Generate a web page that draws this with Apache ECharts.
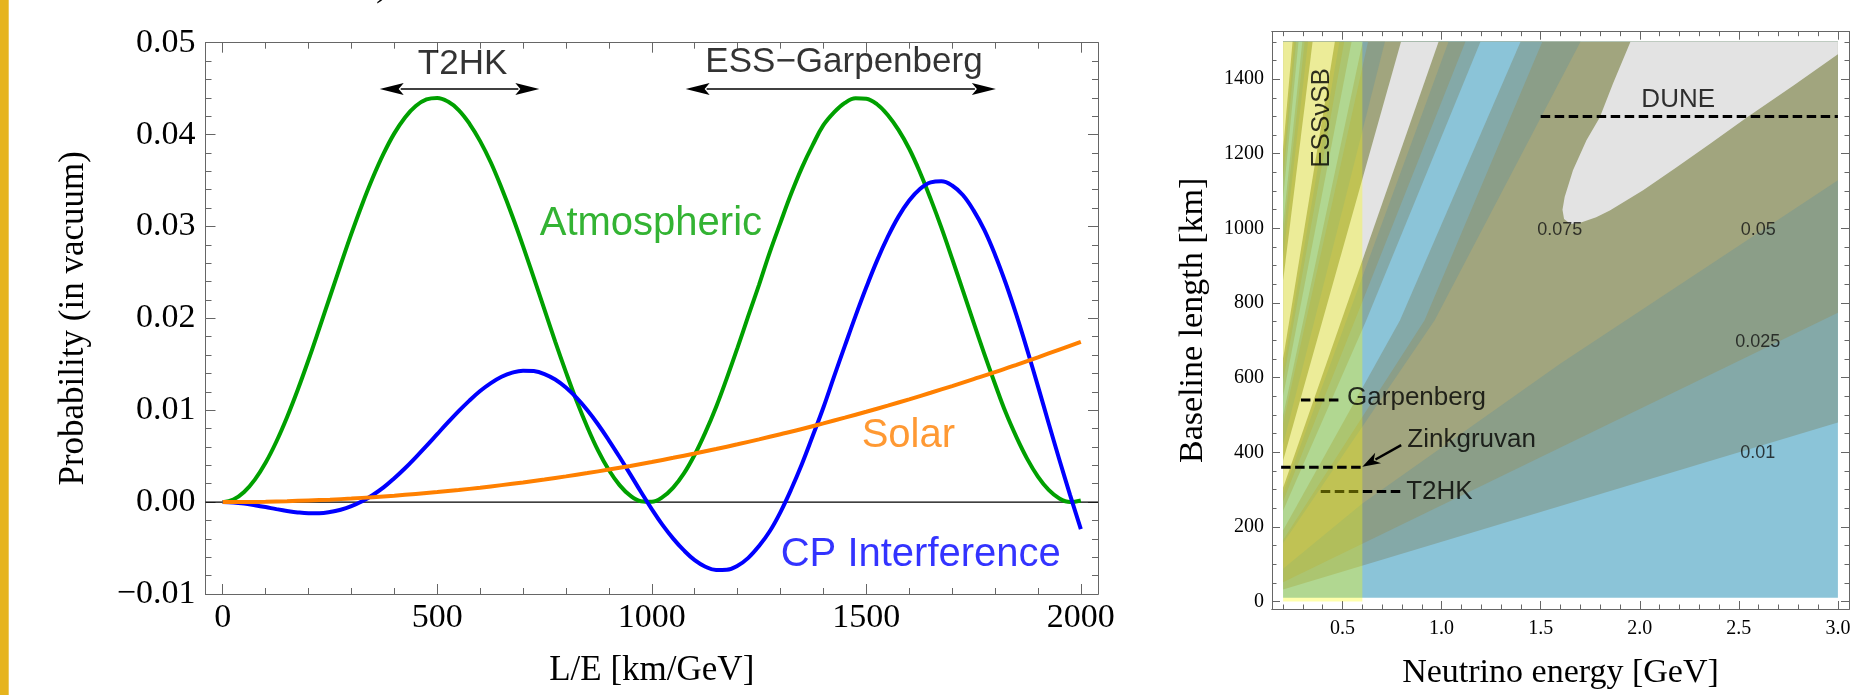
<!DOCTYPE html>
<html>
<head>
<meta charset="utf-8">
<script src="https://cdn.jsdelivr.net/npm/echarts@6/dist/echarts.min.js"></script>
<style>
html, body { margin: 0; padding: 0; background: #fff; }
#chart { width: 1864px; height: 695px; }
</style>
</head>
<body>
<div id="chart"></div>
<script>
// ---------- left panel: oscillation terms vs L/E ----------
var le = [0, 25, 50, 75, 100, 125, 150, 175, 200, 225, 250, 275, 300, 325, 350, 375, 400, 425, 450, 475,
          500, 525, 550, 575, 600, 625, 650, 675, 700, 725, 750, 775, 800, 825, 850, 875, 900, 925, 950, 975,
          1000, 1025, 1050, 1075, 1100, 1125, 1150, 1175, 1200, 1225, 1250, 1275, 1300, 1325, 1350, 1375,
          1400, 1425, 1450, 1475, 1500, 1525, 1550, 1575, 1600, 1625, 1650, 1675, 1700, 1725, 1750, 1775,
          1800, 1825, 1850, 1875, 1900, 1925, 1950, 1975, 2000];
var atmospheric = [0, 0.00028, 0.00110, 0.00245, 0.00428, 0.00657, 0.00924, 0.01223, 0.01547, 0.01888,
          0.02235, 0.02582, 0.02922, 0.03240, 0.03532, 0.03792, 0.04013, 0.04187, 0.04311, 0.04382,
          0.04399, 0.04359, 0.04267, 0.04120, 0.03929, 0.03696, 0.03418, 0.03114, 0.02787, 0.02443,
          0.02096, 0.01747, 0.01415, 0.01100, 0.00815, 0.00560, 0.00349, 0.00185, 0.00070, 0.00010,
          0.00004, 0.00054, 0.00158, 0.00312, 0.00515, 0.00759, 0.01036, 0.01350, 0.01682, 0.02026,
          0.02365, 0.02718, 0.03042, 0.03358, 0.03641, 0.03885, 0.04102, 0.04243, 0.04345, 0.04396,
          0.04390, 0.04330, 0.04214, 0.04051, 0.03846, 0.03591, 0.03300, 0.02987, 0.02650, 0.02304,
          0.01956, 0.01613, 0.01286, 0.00974, 0.00707, 0.00471, 0.00278, 0.00133, 0.00040, 0.00001, 0.00018];
var cpInterference = [0, -0.00004, -0.00016, -0.00034, -0.00054, -0.00076, -0.00096, -0.00112, -0.00120, -0.00120,
          -0.00108, -0.00083, -0.00044, 0.00009, 0.00078, 0.00160, 0.00260, 0.00369, 0.00488, 0.00612,
          0.00740, 0.00867, 0.00990, 0.01105, 0.01209, 0.01295, 0.01364, 0.01410, 0.01431, 0.01426,
          0.01394, 0.01334, 0.01247, 0.01134, 0.01000, 0.00845, 0.00673, 0.00491, 0.00302, 0.00110,
          -0.00076, -0.00248, -0.00397, -0.00526, -0.00632, -0.00703, -0.00739, -0.00736, -0.00693, -0.00607,
          -0.00478, -0.00317, -0.00108, 0.00140, 0.00415, 0.00719, 0.01030, 0.01369, 0.01700, 0.02027,
          0.02338, 0.02628, 0.02886, 0.03107, 0.03282, 0.03408, 0.03479, 0.03492, 0.03446, 0.03342,
          0.03175, 0.02962, 0.02693, 0.02382, 0.02034, 0.01657, 0.01262, 0.00859, 0.00461, 0.00077, -0.00295];
var leSolar = [0, 50, 100, 150, 200, 250, 300, 350, 400, 450, 500, 550, 600, 650, 700, 750, 800, 850, 900, 950,
          1000, 1050, 1100, 1150, 1200, 1250, 1300, 1350, 1400, 1450, 1500, 1550, 1600, 1650, 1700, 1750,
          1800, 1850, 1900, 1950, 2000];
var solar = [0, 0.00001, 0.00004, 0.00010, 0.00018, 0.00027, 0.00039, 0.00054, 0.00070, 0.00089, 0.00109,
          0.00132, 0.00157, 0.00185, 0.00214, 0.00246, 0.00280, 0.00316, 0.00354, 0.00394, 0.00437,
          0.00482, 0.00529, 0.00578, 0.00629, 0.00683, 0.00739, 0.00796, 0.00857, 0.00919, 0.00983,
          0.01050, 0.01119, 0.01190, 0.01263, 0.01338, 0.01414, 0.01494, 0.01576, 0.01660, 0.01744];
var leMajor = [0, 500, 1000, 1500, 2000];
var leMinor = [0, 100, 200, 300, 400, 500, 600, 700, 800, 900, 1000, 1100, 1200, 1300, 1400, 1500, 1600,
          1700, 1800, 1900, 2000];
var zeroLine = [-40, 2040];
// experiment L/E ranges shown with double arrows
var rangeLE = [[366, 738], [1079, 1802]];
var rangeY = 0.04496;
var leftNotes = ['T2HK', 'ESS\u2212Garpenberg', 'Atmospheric', 'Solar', 'CP Interference'];
var leftNoteAt = [[559, 0.04761], [1448, 0.0479], [998, 0.0303], [1598, 0.00717], [1627, -0.00571]];

// ---------- right panel: contour bands in (energy, baseline) ----------
var energyMajor = [0.5, 1.0, 1.5, 2.0, 2.5, 3.0];
var energyMinor = [0.2, 0.3, 0.4, 0.5, 0.6, 0.7, 0.8, 0.9, 1.0, 1.1, 1.2, 1.3, 1.4, 1.5, 1.6, 1.7, 1.8, 1.9,
          2.0, 2.1, 2.2, 2.3, 2.4, 2.5, 2.6, 2.7, 2.8, 2.9, 3.0];
var baselineMajor = [0, 200, 400, 600, 800, 1000, 1200, 1400];
var baselineMinor = [0, 50, 100, 150, 200, 250, 300, 350, 400, 450, 500, 550, 600, 650, 700, 750, 800, 850,
          900, 950, 1000, 1050, 1100, 1150, 1200, 1250, 1300, 1350, 1400, 1450, 1500];
var fieldEnergy = [0.2, 3.0];
var fieldBaseline = [10, 1500];
// band edges, lowest L/E first, each read as a polyline from the origin
var contourEdges = [
  [[0, 0], [3.0, 480]],
  [[0, 0], [3.0, 774]],
  [[0, 0], [0.6, 263], [1.6, 638], [3.0, 1129]],
  [[0, 0], [0.965, 754], [1.697, 1496]],
  [[0, 0], [0.914, 754], [1.505, 1496]],
  [[0, 0], [0.79, 754], [1.395, 1496]],
  [[0, 0], [0.62, 754], [1.193, 1496]],
  [[0, 0], [1.117, 1496]],
  [[0, 0], [1.032, 1496]],
  [[0, 0], [0.982, 1496]],
  [[0, 0], [0.793, 1496]],
  [[0, 0], [0.712, 1496]],
  [[0, 0], [0.627, 1496]],
  [[0, 0], [0.600, 1496]],
  [[0, 0], [0.544, 1496]],
  [[0, 0], [0.507, 1496]],
  [[0, 0], [0.483, 1496]],
  [[0, 0], [0.460, 1496]],
  [[0, 0], [0.348, 1496]],
  [[0, 0], [0.325, 1496]],
  [[0, 0], [0.308, 1496]],
  [[0, 0], [0.296, 1496]],
  [[0, 0], [0.277, 1496]],
  [[0, 0], [0.265, 1496]],
  [[0, 0], [0.256, 1496]],
  [[0, 0], [0.247, 1496]]
];
// contour level of each band (0: <0.01, 1: 0.01-0.025, 2: 0.025-0.05, 3: 0.05-0.075, 4: >0.075)
var bandLevel = [0, 1, 2, 3, 2, 1, 0, 1, 2, 3, 4, 3, 2, 1, 0, 1, 2, 3, 4, 3, 2, 1, 0, 1, 2, 3, 4];
var wedge075 = [[1.975, 1530], [1.950, 1496], [1.865, 1388], [1.798, 1297], [1.731, 1236], [1.663, 1156],
          [1.621, 1084], [1.610, 1050], [1.618, 1025], [1.650, 1012], [1.700, 1015], [1.780, 1030],
          [1.849, 1048], [2.017, 1102], [2.186, 1164], [2.355, 1227], [2.540, 1297], [2.776, 1383],
          [3.004, 1468], [3.1, 1505], [3.1, 1530]];
var essEnergy = [0.2, 0.6];
var essBaseline = [0, 1500];
var sites = ['DUNE', 'Garpenberg', 'Zinkgruvan', 'T2HK'];
var siteBaseline = [1300, 540, 360, 295];
var siteEnergy = [[1.5, 3.0], [0.29, 0.49], [0.19, 0.6], [0.39, 0.8]];
var siteNoteAt = [[2.194, 1344], [0.523, 547], [0.827, 434], [0.821, 295]];
var zinkArrow = [0.796, 419, 0.6, 361];
var contourNames = ['0.075', '0.05', '0.025', '0.01'];
var contourNoteAt = [[1.596, 996], [2.598, 996], [2.595, 696], [2.595, 397]];
var essNoteAt = [0.395, 1296];

var levelColor = ['#8bc4d8', '#84a9a8', '#8b9e88', '#a1a57e', '#e3e3e3'];
var green = '#00a000', blue = '#0000ff', orange = '#ff8000';
var serif = "'Liberation Serif', 'Times New Roman', serif";
var sans = "'Liberation Sans', Arial, sans-serif";
var frame = '#666';

function zip(xs, ys) {
  return xs.map(function (x, i) { return [x, ys[i]]; });
}

function extendEdge(pts) {
  var n = pts.length, a = pts[n - 2], b = pts[n - 1];
  var dx = b[0] - a[0], dy = b[1] - a[1], t = Infinity;
  if (dx > 0) t = Math.min(t, (3.2 - b[0]) / dx);
  if (dy > 0) t = Math.min(t, (1600 - b[1]) / dy);
  return pts.concat([[b[0] + dx * t, b[1] + dy * t]]);
}

// Sutherland-Hodgman against the filled field rectangle
function clipPolygon(pts) {
  var x0 = fieldEnergy[0], x1 = fieldEnergy[1], y0 = fieldBaseline[0], y1 = fieldBaseline[1];
  function pass(p, inside, cut) {
    var out = [];
    for (var i = 0; i < p.length; i++) {
      var a = p[i], b = p[(i + 1) % p.length];
      var ia = inside(a), ib = inside(b);
      if (ia && ib) out.push(b);
      else if (ia) out.push(cut(a, b));
      else if (ib) { out.push(cut(a, b)); out.push(b); }
    }
    return out;
  }
  function atX(x) { return function (a, b) { var t = (x - a[0]) / (b[0] - a[0]); return [x, a[1] + t * (b[1] - a[1])]; }; }
  function atY(y) { return function (a, b) { var t = (y - a[1]) / (b[1] - a[1]); return [a[0] + t * (b[0] - a[0]), y]; }; }
  pts = pass(pts, function (p) { return p[0] >= x0; }, atX(x0));
  pts = pass(pts, function (p) { return p[0] <= x1; }, atX(x1));
  pts = pass(pts, function (p) { return p[1] >= y0; }, atY(y0));
  pts = pass(pts, function (p) { return p[1] <= y1; }, atY(y1));
  return pts;
}

function arrowHead(tip, from, len, half, notch) {
  var dx = tip[0] - from[0], dy = tip[1] - from[1];
  var d = Math.sqrt(dx * dx + dy * dy), ux = dx / d, uy = dy / d, nx = -uy, ny = ux;
  return [
    [tip[0], tip[1]],
    [tip[0] - ux * len + nx * half, tip[1] - uy * len + ny * half],
    [tip[0] - ux * (len - notch), tip[1] - uy * (len - notch)],
    [tip[0] - ux * len - nx * half, tip[1] - uy * len - ny * half]
  ];
}

function arrowSeries(data, both, len, half, xi, yi, width) {
  return {
    type: 'custom', xAxisIndex: xi, yAxisIndex: yi, z: 6, silent: true,
    data: data,
    renderItem: function (params, api) {
      var a = api.coord([api.value(0), api.value(1)]);
      var b = api.coord([api.value(2), api.value(3)]);
      var dx = b[0] - a[0], dy = b[1] - a[1], d = Math.sqrt(dx * dx + dy * dy);
      var ux = dx / d, uy = dy / d, back = len - 3;
      var s = both ? [a[0] + ux * back, a[1] + uy * back] : a;
      var e = [b[0] - ux * back, b[1] - uy * back];
      var kids = [
        { type: 'line', shape: { x1: s[0], y1: s[1], x2: e[0], y2: e[1] }, style: { stroke: '#000', lineWidth: width } },
        { type: 'polygon', shape: { points: arrowHead(b, a, len, half, 5) }, style: { fill: '#000' } }
      ];
      if (both) kids.push({ type: 'polygon', shape: { points: arrowHead(a, b, len, half, 5) }, style: { fill: '#000' } });
      return { type: 'group', children: kids };
    }
  };
}

function noteSeries(texts, at, xi, yi, opts) {
  return {
    type: 'scatter', xAxisIndex: xi, yAxisIndex: yi, symbolSize: 0, z: 7, silent: true,
    data: texts.map(function (t, i) { return { name: t, value: at[i] }; }),
    label: Object.assign({ show: true, formatter: '{b}', fontFamily: sans, color: '#000' }, opts.label),
    labelLayout: { hideOverlap: false }
  };
}

function plain(v) { return String(v); }

function valueAxis(base) {
  return Object.assign({
    type: 'value', splitLine: { show: false },
    axisLine: { show: true, onZero: false, lineStyle: { color: frame, width: 1 } },
    axisTick: { inside: true, lineStyle: { color: frame, width: 1 } },
    axisLabel: { show: false }
  }, base);
}

var leftX = { gridIndex: 0, min: -40, max: 2040 };
var rightX = { gridIndex: 1, min: 0.144, max: 3.056 };
var rightY = { gridIndex: 1, min: -20, max: 1527 };

function tickSet(range, pos, values, len) {
  var o = Object.assign({}, range, { position: pos });
  o.axisTick = { inside: true, length: len, customValues: values, lineStyle: { color: frame, width: 1 } };
  return valueAxis(o);
}

var xAxes = [
  valueAxis(Object.assign({}, leftX, {
    position: 'bottom',
    axisTick: { inside: true, length: 10, customValues: leMajor, lineStyle: { color: frame } },
    axisLabel: { show: true, customValues: leMajor, formatter: plain, fontFamily: serif, fontSize: 34, color: '#000', margin: 7 },
    name: 'L/E [km/GeV]', nameLocation: 'middle', nameGap: 59,
    nameTextStyle: { fontFamily: serif, fontSize: 35, color: '#000' }
  })),
  tickSet(leftX, 'bottom', leMinor, 6),
  tickSet(leftX, 'top', leMajor, 10),
  tickSet(leftX, 'top', leMinor, 6),
  valueAxis(Object.assign({}, rightX, {
    position: 'bottom',
    axisTick: { inside: true, length: 8, customValues: energyMajor, lineStyle: { color: frame } },
    axisLabel: {
      show: true, customValues: energyMajor, fontFamily: serif, fontSize: 20, color: '#000', margin: 10,
      formatter: function (v) { return v.toFixed(1); }
    },
    name: 'Neutrino energy [GeV]', nameLocation: 'middle', nameGap: 47,
    nameTextStyle: { fontFamily: serif, fontSize: 34, color: '#000' }
  })),
  tickSet(rightX, 'bottom', energyMinor, 4.5),
  tickSet(rightX, 'top', energyMajor, 8),
  tickSet(rightX, 'top', energyMinor, 4.5)
];

var yAxes = [
  valueAxis({
    gridIndex: 0, position: 'left', min: -0.01, max: 0.05, interval: 0.01,
    axisTick: { inside: true, length: 10, lineStyle: { color: frame } },
    minorTick: { show: true, splitNumber: 5, length: 6, lineStyle: { color: frame } },
    axisLabel: {
      show: true, fontFamily: serif, fontSize: 34, color: '#000', margin: 10,
      formatter: function (v) { return (v < -1e-9 ? '\u2212' : '') + Math.abs(v).toFixed(2); }
    },
    name: 'Probability (in vacuum)', nameLocation: 'middle', nameGap: 114, nameRotate: 90,
    nameTextStyle: { fontFamily: serif, fontSize: 35, color: '#000' }
  }),
  valueAxis({
    gridIndex: 0, position: 'right', min: -0.01, max: 0.05, interval: 0.01,
    axisTick: { inside: true, length: 10, lineStyle: { color: frame } },
    minorTick: { show: true, splitNumber: 5, length: 6, lineStyle: { color: frame } }
  }),
  valueAxis(Object.assign({}, rightY, {
    position: 'left',
    axisTick: { inside: true, length: 8, customValues: baselineMajor, lineStyle: { color: frame } },
    axisLabel: { show: true, customValues: baselineMajor, formatter: plain, fontFamily: serif, fontSize: 20, color: '#000', margin: 8 },
    name: 'Baseline length [km]', nameLocation: 'middle', nameGap: 62, nameRotate: 90,
    nameTextStyle: { fontFamily: serif, fontSize: 34, color: '#000' }
  })),
  tickSet(rightY, 'left', baselineMinor, 4.5),
  tickSet(rightY, 'right', baselineMajor, 8),
  tickSet(rightY, 'right', baselineMinor, 4.5)
];

var bandSeries = {
  type: 'custom', xAxisIndex: 4, yAxisIndex: 2, z: 1, silent: true,
  data: bandLevel.map(function (lv, k) { return [k, lv]; }),
  renderItem: function (params, api) {
    var k = params.dataIndex;
    var lower = k === 0 ? [[0, 0], [4, 0]] : extendEdge(contourEdges[k - 1]);
    var poly = clipPolygon(lower.concat([[4, 2000], [0, 2000]]));
    if (!poly.length) return null;
    return {
      type: 'polygon',
      shape: { points: poly.map(function (p) { return api.coord(p); }) },
      style: { fill: levelColor[bandLevel[k]] }
    };
  }
};

var wedgeSeries = {
  type: 'custom', xAxisIndex: 4, yAxisIndex: 2, z: 2, silent: true,
  data: [[0, 4]],
  renderItem: function (params, api) {
    var poly = clipPolygon(wedge075);
    return {
      type: 'polygon',
      shape: { points: poly.map(function (p) { return api.coord(p); }) },
      style: { fill: levelColor[4] }
    };
  }
};

var essSeries = {
  type: 'custom', xAxisIndex: 4, yAxisIndex: 2, z: 4, silent: true,
  data: [[essEnergy[0], essBaseline[1], essEnergy[1], essBaseline[0]]],
  renderItem: function (params, api) {
    var a = api.coord([api.value(0), api.value(1)]);
    var b = api.coord([api.value(2), api.value(3)]);
    return {
      type: 'rect',
      shape: { x: a[0], y: a[1], width: b[0] - a[0], height: b[1] - a[1] },
      style: { fill: 'rgba(255,255,0,0.33)' }
    };
  }
};

function siteLine(i, z) {
  return {
    type: 'line', xAxisIndex: 4, yAxisIndex: 2, z: z, silent: true, symbol: 'none',
    data: [[siteEnergy[i][0], siteBaseline[i]], [siteEnergy[i][1], siteBaseline[i]]],
    lineStyle: { color: '#000', width: 3, type: [9.5, 4.5] }
  };
}

var series = [
  {
    type: 'line', xAxisIndex: 0, yAxisIndex: 0, z: 2, silent: true, symbol: 'none',
    data: [[zeroLine[0], 0], [zeroLine[1], 0]], lineStyle: { color: '#000', width: 1.2 }
  },
  {
    name: 'Atmospheric', type: 'line', xAxisIndex: 0, yAxisIndex: 0, z: 3, smooth: 0.4, showSymbol: false,
    data: zip(le, atmospheric), lineStyle: { color: green, width: 4 }
  },
  {
    name: 'CP Interference', type: 'line', xAxisIndex: 0, yAxisIndex: 0, z: 3, smooth: 0.4, showSymbol: false,
    data: zip(le, cpInterference), lineStyle: { color: blue, width: 4 }
  },
  {
    name: 'Solar', type: 'line', xAxisIndex: 0, yAxisIndex: 0, z: 3, smooth: 0.4, showSymbol: false,
    data: zip(leSolar, solar), lineStyle: { color: orange, width: 4 }
  },
  arrowSeries(rangeLE.map(function (r) { return [r[0], rangeY, r[1], rangeY, 1]; }), true, 24, 6, 0, 0, 1.5),
  bandSeries,
  wedgeSeries,
  siteLine(3, 3),
  essSeries,
  siteLine(0, 5),
  siteLine(1, 5),
  siteLine(2, 5),
  arrowSeries([zinkArrow.concat([0])], false, 18, 6, 4, 2, 2.5)
];

// text annotations
var leftColors = ['#000', '#000', green, orange, blue];
var leftSizes = [35, 35, 40, 40, 40];
leftNotes.forEach(function (t, i) {
  series.push(noteSeries([t], [leftNoteAt[i]], 0, 0,
    { label: { position: 'inside', color: leftColors[i], fontSize: leftSizes[i] } }));
});
series.push(noteSeries(sites.slice(0, 1), siteNoteAt.slice(0, 1), 4, 2, { label: { position: 'inside', fontSize: 26 } }));
series.push(noteSeries(sites.slice(1), siteNoteAt.slice(1), 4, 2, { label: { position: 'right', distance: 0, fontSize: 26 } }));
series.push(noteSeries(contourNames, contourNoteAt, 4, 2, { label: { position: 'inside', fontSize: 18, color: '#111' } }));
series.push(noteSeries(['ESS\u03bdSB'], [essNoteAt], 4, 2, { label: { position: 'inside', fontSize: 26, rotate: 90 } }));

var chart = echarts.init(document.getElementById('chart'));
chart.setOption({
  animation: false,
  backgroundColor: '#fff',
  grid: [
    { left: 205.5, top: 42.7, width: 892.5, height: 551.3 },
    { left: 1272, top: 31.7, width: 577, height: 577.6 }
  ],
  xAxis: xAxes,
  yAxis: yAxes,
  series: series,
  graphic: [
    { type: 'rect', shape: { x: 0, y: 0, width: 8.7, height: 695 }, style: { fill: '#e6b41e' } },
    { type: 'text', x: 376, y: -36, style: { text: ')', font: '40px ' + serif, fill: '#000' } },
    { type: 'text', x: 427, y: -36, style: { text: '[7]', font: '40px ' + serif, fill: '#000' } },
    { type: 'text', x: 1365, y: -49, style: { text: 'g', font: '48px ' + sans, fill: '#000' } }
  ]
});
</script>
</body>
</html>
